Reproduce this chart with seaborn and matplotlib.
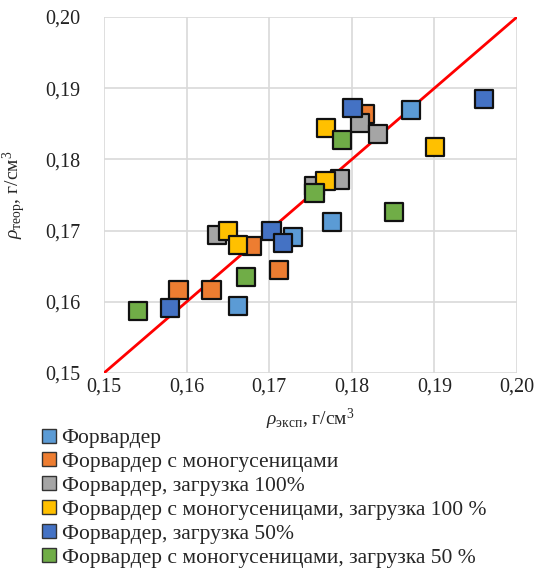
import matplotlib
matplotlib.use("Agg")
import matplotlib.pyplot as plt
import seaborn as sns
import pandas as pd
import numpy as np
from matplotlib.lines import Line2D
from matplotlib.ticker import FuncFormatter, MultipleLocator

series_names = [
    "Форвардер",
    "Форвардер с моногусеницами",
    "Форвардер, загрузка 100%",
    "Форвардер с моногусеницами, загрузка 100 %",
    "Форвардер, загрузка 50%",
    "Форвардер с моногусеницами, загрузка 50 %",
]
colors = ["#5B9BD5", "#ED7D31", "#A5A5A5", "#FFC000", "#4472C4", "#70AD47"]

x_forw = [0.1872, 0.1776, 0.1729, 0.1662]
y_forw = [0.1869, 0.1712, 0.1691, 0.1594]
x_mono = [0.1816, 0.1679, 0.1712, 0.1590, 0.1630]
y_mono = [0.1864, 0.1678, 0.1645, 0.1617, 0.1617]
x_f100 = [0.1810, 0.1832, 0.1786, 0.1755, 0.1637]
y_f100 = [0.1851, 0.1836, 0.1772, 0.1763, 0.1694]
x_m100 = [0.1769, 0.1901, 0.1768, 0.1650, 0.1662]
y_m100 = [0.1844, 0.1817, 0.1770, 0.1699, 0.1680]
x_f50 = [0.1801, 0.1960, 0.1703, 0.1717, 0.1580]
y_f50 = [0.1872, 0.1885, 0.1699, 0.1683, 0.1591]
x_m50 = [0.1788, 0.1755, 0.1851, 0.1672, 0.1541]
y_m50 = [0.1827, 0.1753, 0.1726, 0.1635, 0.1587]

line_x = [0.15, 0.20]
line_y = [0.15, 0.20]
tick_vals = [0.15, 0.16, 0.17, 0.18, 0.19, 0.20]

xs = [x_forw, x_mono, x_f100, x_m100, x_f50, x_m50]
ys = [y_forw, y_mono, y_f100, y_m100, y_f50, y_m50]
rows = []
for name, xv, yv in zip(series_names, xs, ys):
    for a, b in zip(xv, yv):
        rows.append({"x": a, "y": b, "s": name})
df = pd.DataFrame(rows)

sns.set_style("white")
plt.rcParams["font.family"] = ["Liberation Serif", "DejaVu Serif"]
plt.rcParams["mathtext.fontset"] = "custom"
plt.rcParams["mathtext.rm"] = "Liberation Serif"
plt.rcParams["mathtext.it"] = "Liberation Serif:italic"

fig = plt.figure(figsize=(5.41, 5.69), dpi=100)
ax = fig.add_axes([104/541, 1-373/569, 413/541, 356/569])

ax.plot(line_x, line_y, color="#FF0000", lw=2, zorder=2)
sns.scatterplot(data=df, x="x", y="y", hue="s", hue_order=series_names,
                palette=colors, marker="s", s=175, edgecolor="#111111",
                linewidth=1.6, ax=ax, legend=False, zorder=3)

ax.set_xlim(0.15, 0.20)
ax.set_ylim(0.15, 0.20)
ax.set_xticks(tick_vals)
ax.set_yticks(tick_vals)
fmt = FuncFormatter(lambda v, p: f"{v:.2f}".replace(".", ","))
ax.xaxis.set_major_formatter(fmt)
ax.yaxis.set_major_formatter(fmt)
ax.tick_params(length=0, labelsize=14.5, colors="#222222")
ax.tick_params(axis="y", pad=17)
ax.tick_params(axis="x", pad=3)
ax.grid(True, color="#D9D9D9", lw=1.2)
ax.set_axisbelow(True)
for sp in ax.spines.values():
    sp.set_visible(False)

ax.set_xlabel(r"$\rho_{\mathrm{эксп}}$, г/см$^3$", fontsize=14, labelpad=8)
ax.set_ylabel(r"$\rho_{\mathrm{теор}}$, г/см$^3$", fontsize=14)
ax.yaxis.set_label_coords(-0.185, 0.50)

handles = [Line2D([0], [0], marker="s", linestyle="", markersize=9.5,
                  markerfacecolor=c, markeredgecolor="#333333", markeredgewidth=1.0)
           for c in colors]
fig.legend(handles, series_names, loc="upper left",
           bbox_to_anchor=(40/541, 1-428/569), frameon=False,
           fontsize=15.5, handlelength=0.8, handletextpad=0.2,
           labelspacing=0.18, borderpad=0, borderaxespad=0)

fig.savefig("out.png", dpi=100)
